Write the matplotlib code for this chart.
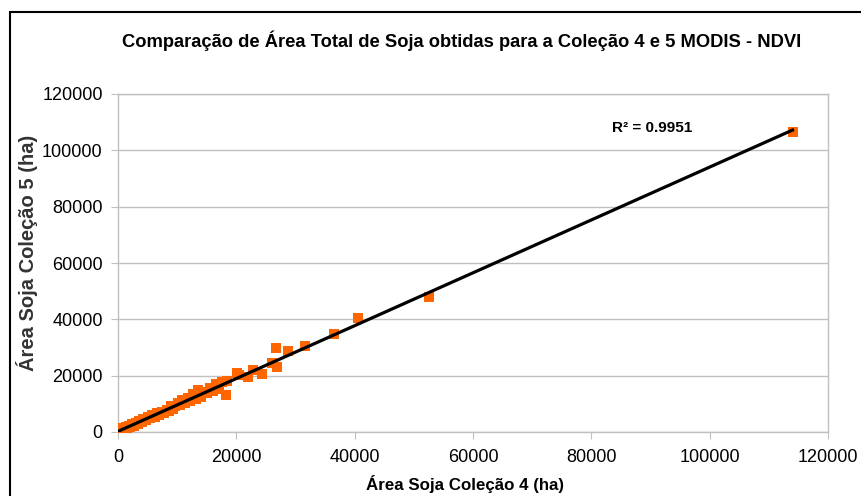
import numpy as np
import matplotlib
matplotlib.use("Agg")
from matplotlib import pyplot as plt
from matplotlib.patches import Rectangle

# area soja, colecao 4 (x) vs colecao 5 (y), ha
col4 = [0, 150, 300, 500, 700, 900, 1100, 1300, 1500, 1800, 2100, 2400, 2700, 3000,
        3300, 3600, 4000, 4300, 4700, 5000, 5400, 5800, 6200, 6600, 7000, 7400,
        7800, 8200, 8600, 8900, 9300, 9700, 10100, 10500, 10900, 11300, 11800,
        12200, 12700, 13100, 13600, 14000, 14500, 15000, 15500, 16000, 16500,
        17000, 17600, 18200, 18500, 20100, 20400, 22000, 22800, 24400, 26000,
        26700, 26900, 28700, 31600, 36500, 40600, 52600, 114000]
col5 = [0, 600, 200, 900, 500, 1300, 900, 1600, 1200, 2100, 1800, 2800, 2300, 3200,
        2900, 3900, 3600, 4500, 4100, 5300, 4800, 5900, 5400, 6600, 6000, 7200,
        6800, 7900, 7300, 9400, 8300, 9100, 10200, 9500, 11400, 10400, 12100,
        11000, 13500, 11800, 14900, 12600, 14200, 13800, 15600, 14700, 17100,
        15400, 17700, 13300, 18100, 21000, 20200, 19500, 22000, 20600, 24500,
        29800, 23000, 28700, 30500, 34800, 40500, 48000, 106500]
r2_text = "R² = 0.9951"

x = np.array(col4, dtype=float)
y = np.array(col5, dtype=float)
slope, intercept = np.polyfit(x, y, 1)

plt.rcParams['font.family'] = ['Liberation Sans', 'DejaVu Sans']

fig = plt.figure(figsize=(8.61, 4.96), dpi=100)
ax = fig.add_axes([118/861, 1-432/496, 710/861, 338/496])

# outer chart frame (cut off at right and bottom)
fig.patches.append(Rectangle((10/861, -0.05), 1.1, 1-12/496+0.05, transform=fig.transFigure,
                             fill=False, edgecolor='black', linewidth=1.5))

ax.scatter(x, y, marker='s', s=46, color='#FF6600', zorder=3, linewidths=0)
xl = np.array([0, x.max()])
ax.plot(xl, slope*xl + intercept, color='black', linewidth=2.3, zorder=4)

ax.set_xlim(0, 120000)
ax.set_ylim(0, 120000)
ax.set_xticks(np.arange(0, 120001, 20000))
ax.set_yticks(np.arange(0, 120001, 20000))
ax.yaxis.grid(True, color='#C0C0C0', linewidth=1)
ax.set_axisbelow(True)
for s in ax.spines.values():
    s.set_color('#C0C0C0')
    s.set_linewidth(1)
ax.tick_params(axis='both', colors='#C0C0C0', labelcolor='black', labelsize=13,
               length=5, direction='out')
ax.tick_params(axis='x', pad=7)
ax.tick_params(axis='y', pad=6)

ax.text(83500, 108000, r2_text, fontweight='bold', fontsize=11, va='center')

fig.text(462/861, 1-41/496, "Comparação de Área Total de Soja obtidas para a Coleção 4 e 5 MODIS - NDVI",
         fontweight='bold', fontsize=13.2, ha='center', va='center')
fig.text(465/861, 1-484/496, "Área Soja Coleção 4 (ha)", fontweight='bold',
         fontsize=12.2, ha='center', va='center')
fig.text(27/861, 1-253/496, "Área Soja Coleção 5 (ha)", fontweight='bold', fontsize=14.5,
         color='#333333', rotation=90, ha='center', va='center')

fig.savefig("out.png", dpi=100)
